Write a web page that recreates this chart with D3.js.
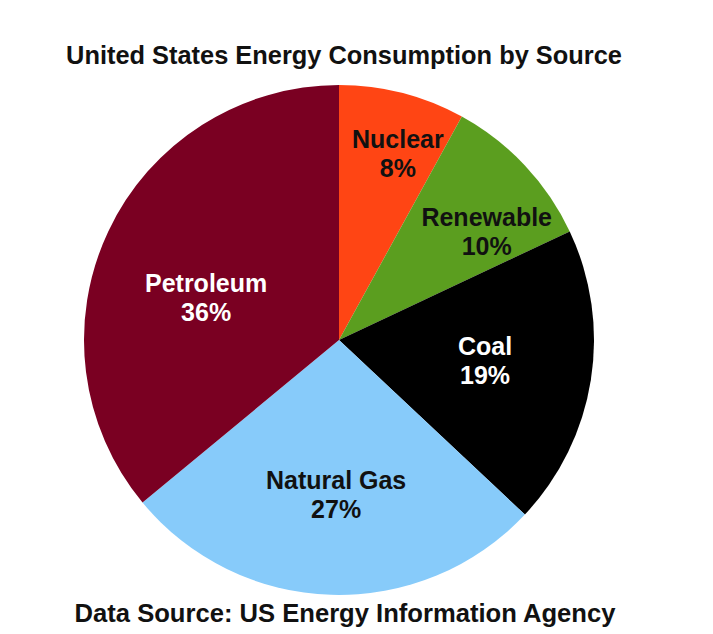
<!DOCTYPE html>
<html>
<head>
<meta charset="utf-8">
<script src="https://cdn.jsdelivr.net/npm/d3@7"></script>
<style>
  body { margin: 0; background: #fff; }
  text { font-family: "Liberation Sans", Arial, sans-serif; font-weight: bold; }
</style>
</head>
<body>
<script>
// chart data
const sources = ['Nuclear', 'Renewable', 'Coal', 'Natural Gas', 'Petroleum'];
const shares  = [8, 10, 19, 27, 36];
const colors  = ['#ff4514', '#5b9e1f', '#000000', '#87cbfa', '#7a0022'];
const labelColors = ['#111', '#111', '#fff', '#111', '#fff'];

const title  = 'United States Energy Consumption by Source';
const source = 'Data Source: US Energy Information Agency';

// layout
const width  = 713;
const height = 634;
const cx = 339;
const cy = 340;
const radius = 255;

// label placement: distance from centre (fraction of radius) and nudge
const labelRadius = [0.77, 0.73, 0.58, 0.61, 0.55];
const labelNudge  = [[10, 4], [12, 19], [0, -2], [2, 0], [-6, 18]];

const svg = d3.select('body')
  .append('svg')
    .attr('width', width)
    .attr('height', height);

// title
svg.append('text')
  .attr('x', 344)
  .attr('y', 64)
  .attr('text-anchor', 'middle')
  .attr('font-size', 25.4)
  .attr('fill', '#111')
  .text(title);

// pie
const pie = d3.pie().sort(null).value((d) => d.value);
const arcs = pie(sources.map((s, i) => ({ name: s, value: shares[i], i })));

const arc = d3.arc().innerRadius(0).outerRadius(radius);

const g = svg.append('g').attr('transform', `translate(${cx},${cy})`);

g.selectAll('path')
  .data(arcs)
  .join('path')
    .attr('d', arc)
    .attr('fill', (d) => colors[d.data.i]);

// labels
const labels = g.selectAll('g.label')
  .data(arcs)
  .join('g')
    .attr('class', 'label')
    .attr('transform', (d) => {
      const r = radius * labelRadius[d.data.i];
      const [x, y] = d3.arc().innerRadius(r).outerRadius(r).centroid(d);
      const [dx, dy] = labelNudge[d.data.i];
      return `translate(${x + dx},${y + dy})`;
    });

labels.append('text')
  .attr('text-anchor', 'middle')
  .attr('y', -6)
  .attr('font-size', 25)
  .attr('fill', (d) => labelColors[d.data.i])
  .text((d) => d.data.name);

labels.append('text')
  .attr('text-anchor', 'middle')
  .attr('y', 23)
  .attr('font-size', 25)
  .attr('fill', (d) => labelColors[d.data.i])
  .text((d) => `${d.data.value}%`);

// source note
svg.append('text')
  .attr('x', 345)
  .attr('y', 622)
  .attr('text-anchor', 'middle')
  .attr('font-size', 25.6)
  .attr('fill', '#111')
  .text(source);
</script>
</body>
</html>
